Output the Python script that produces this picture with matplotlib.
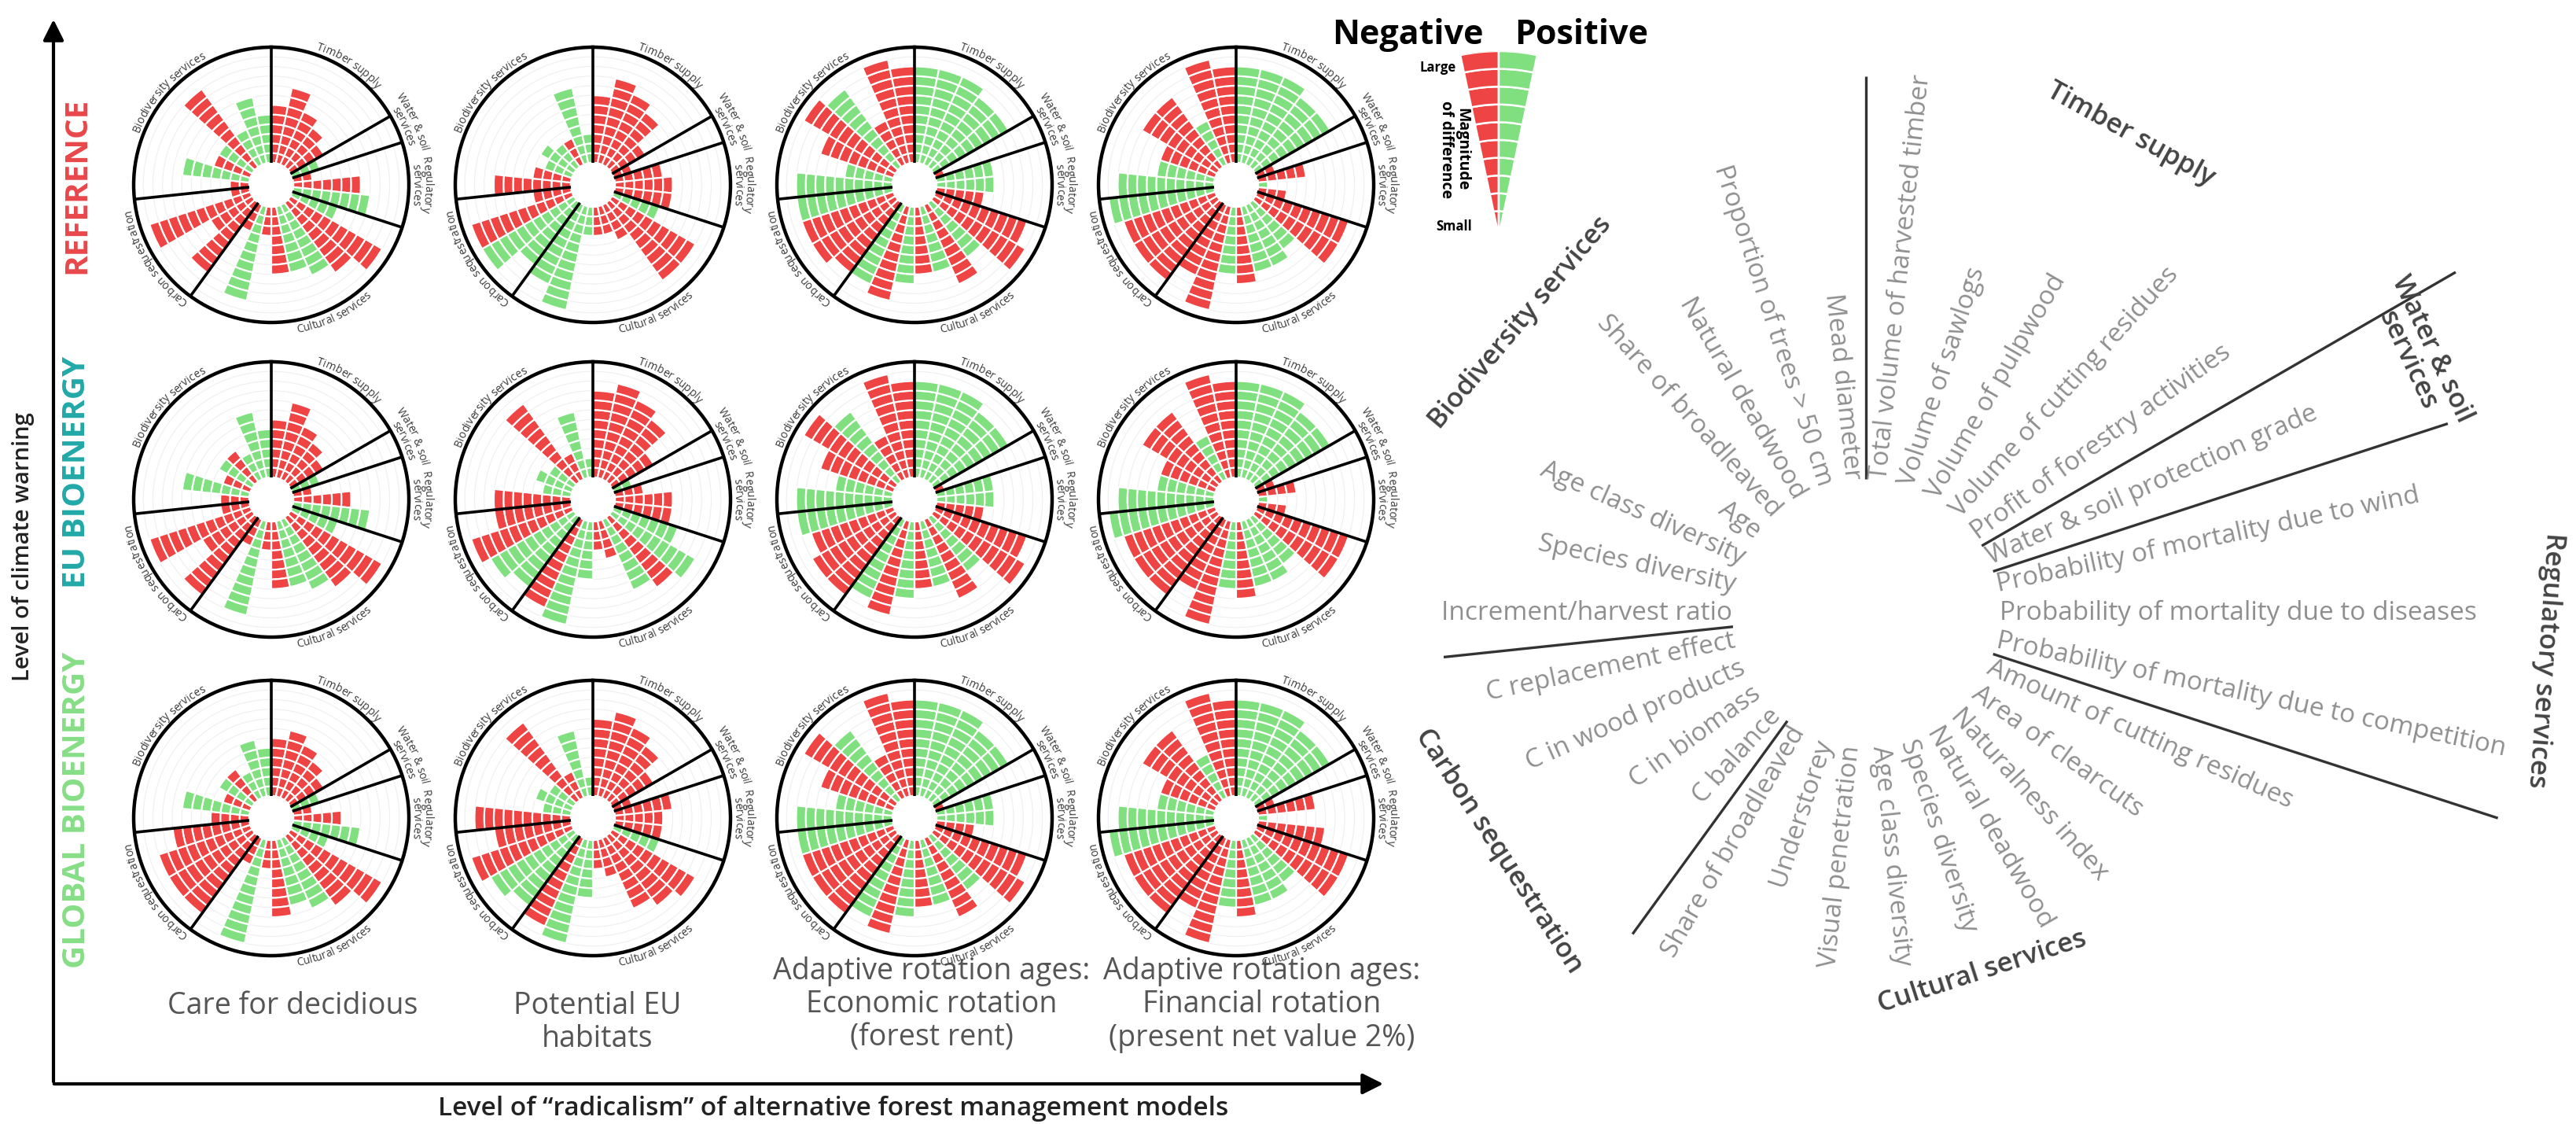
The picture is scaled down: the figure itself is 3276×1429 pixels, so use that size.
import numpy as np
import matplotlib.pyplot as plt
from matplotlib.font_manager import FontProperties
from matplotlib.textpath import TextToPath

W, H, DPI = 3276, 1429, 100
RED, GREEN = '#EE4444', '#80E080'
FONT = 'Open Sans'

# indicator names, clockwise from the top
timber = ['Total volume of harvested timber', 'Volume of sawlogs', 'Volume of pulpwood',
          'Volume of cutting residues', 'Profit of forestry activities']
water = ['Water & soil protection grade']
regulatory = ['Probability of mortality due to wind', 'Probability of mortality due to diseases',
              'Probability of mortality due to competition']
cultural = ['Amount of cutting residues', 'Area of clearcuts', 'Naturalness index', 'Natural deadwood',
            'Species diversity', 'Age class diversity', 'Visual penetration', 'Understorey',
            'Share of broadleaved']
carbon = ['C balance', 'C in biomass', 'C in wood products', 'C replacement effect']
biodiversity = ['Increment/harvest ratio', 'Species diversity', 'Age class diversity', 'Age',
                'Share of broadleaved', 'Natural deadwood', 'Proportion of trees > 50 cm', 'Mead diameter']
indicators = timber + water + regulatory + cultural + carbon + biodiversity

rows = ['REFERENCE', 'EU BIOENERGY', 'GLOBAL BIOENERGY']
row_colors = ['#E9474A', '#22A8A8', '#86DE86']
models = ['Care for decidious', 'Potential EU\nhabitats',
          'Adaptive rotation ages:\nEconomic rotation\n(forest rent)',
          'Adaptive rotation ages:\nFinancial rotation\n(present net value 2%)']

# number of blocks per indicator (+ positive / green, - negative / red), clockwise from the top
ref_care = [-6, -8, -6, -5, -4, 3, -2, -7, 8, 5, -11, -9, 8, 7, -7, -3, 10, -3, -9, -5, -11, -2, -2, 7, -4, 4, -10, 4, 7, 5]
ref_hab = [-7, -9, -8, -7, -4, -2, -5, -6, -6, 5, -10, -10, -4, -3, -3, 3, 11, 9, 8, 11, -11, -4, -8, -4, 3, 4, 3, -3, 8, 3]
ref_econ = [10, 10, 10, 9, 9, -1, 6, 6, -5, -10, -11, 7, -9, 7, -7, 8, -10, 9, -9, -10, -10, 10, 10, 5, -8, -11, 10, -5, -11, -10]
ref_fin = [10, 10, 10, 9, 9, -2, -5, 1, -3, -10, -10, 6, 7, 7, -8, 7, -11, -8, -10, -10, -10, 11, 10, 6, -6, -9, -9, 5, -11, -10]
eu_care = [-6, -8, -6, -5, -4, 3, -2, -6, 8, 5, -11, -9, 8, 7, -7, -3, 10, -3, -10, -6, -11, -3, -3, 7, -3, 4, -4, 3, 7, 5]
eu_hab = [-9, -10, -9, -8, -5, 2, -3, -6, -6, 7, 10, -9, 8, -4, -3, 6, 11, -10, 9, 10, -11, -8, -8, 3, 4, 3, -10, -3, 7, 2]
eu_econ = [10, 10, 10, 9, 9, -1, 6, 6, -5, -10, -11, 7, -9, 7, -7, 8, -10, 9, -10, -10, -9, 10, 10, 6, -8, -11, 9, -5, -11, -10]
eu_fin = [10, 10, 10, 9, 9, -2, -4, 1, -3, -10, -10, 6, 7, 7, -8, 7, -11, -8, -10, -10, -10, 11, 10, 6, -6, -9, -9, 5, -11, -10]
glob_care = [-6, -7, -6, -5, -4, 3, -2, -5, 7, 4, -11, -9, 8, 7, -8, -3, 11, -3, -10, -10, -10, -8, -4, 7, -3, 4, -4, 3, 6, 5]
glob_hab = [-8, -9, -8, -7, -5, -2, -6, -5, -5, 5, -10, -9, -8, -4, -3, 6, 11, -10, 9, 10, -11, -8, -10, 3, 4, 3, -10, -3, 7, 2]
glob_econ = [10, 10, 10, 9, 9, -1, 6, 6, -4, -10, -11, 7, -9, 7, -7, 8, -10, 9, -10, -10, -10, 10, 10, 6, -8, -11, 9, -5, -11, -10]
glob_fin = [10, 10, 10, 9, 9, -2, -6, 1, -7, -10, -10, 6, 7, 7, -8, 7, -11, -8, -10, -10, -10, 11, 10, 6, -6, -9, -9, 5, -11, -10]
grid = [[ref_care, ref_hab, ref_econ, ref_fin],
        [eu_care, eu_hab, eu_econ, eu_fin],
        [glob_care, glob_hab, glob_econ, glob_fin]]

bounds = [0, 60, 72, 108, 216, 264]  # sector borders, degrees clockwise from top
col_x = [345, 754, 1163, 1572]
row_y = [235, 635, 1040]
R_PX = 175
HOLE, R_OUT = 2.3, 14.3

fig = plt.figure(figsize=(W / DPI, H / DPI), dpi=DPI)
base = fig.add_axes([0, 0, 1, 1])
base.set_xlim(0, W)
base.set_ylim(H, 0)
base.axis('off')

t2p = TextToPath()


def adv(s, fp):
    if not s:
        return 0.0
    w = t2p.get_text_width_height_descent(s + 'l', fp, ismath=False)[0]
    w0 = t2p.get_text_width_height_descent('l', fp, ismath=False)[0]
    return (w - w0) * DPI / 72


def px_axes(cx, cy, r, **kw):
    return fig.add_axes([(cx - r) / W, 1 - (cy + r) / H, 2 * r / W, 2 * r / H], **kw)


def arc_text(ax, s, phi_c, r_px, size, flip=False, color='#3a3a3a'):
    fp = FontProperties(family=FONT, size=size)
    a = [adv(s[:k], fp) for k in range(len(s) + 1)]
    total = a[-1]
    for k, ch in enumerate(s):
        if ch == ' ':
            continue
        mid = (a[k] + a[k + 1]) / 2 - total / 2
        d = np.rad2deg(mid / r_px)
        if flip:
            phi = phi_c - d
            rot = 180 - phi
        else:
            phi = phi_c + d
            rot = -phi
        ax.text(np.deg2rad(phi), r_px / R_PX * R_OUT, ch, rotation=rot, rotation_mode='anchor',
                ha='center', va='baseline', fontproperties=fp, color=color, clip_on=False)


def rose(ax, vals):
    ax.set_theta_zero_location('N')
    ax.set_theta_direction(-1)
    for i, v in enumerate(vals):
        n = abs(v)
        if n == 0:
            continue
        ax.bar(np.full(n, np.deg2rad(6 + 12 * i)), np.ones(n), width=np.deg2rad(12),
               bottom=HOLE + np.arange(n), color=GREEN if v > 0 else RED,
               edgecolor='white', linewidth=1.6, zorder=2)
    for b in bounds:
        ax.plot([np.deg2rad(b)] * 2, [HOLE, R_OUT], color='black', lw=2.6, zorder=3,
                solid_capstyle='butt')
    ax.set_ylim(0, R_OUT)
    ax.set_yticks(HOLE + np.arange(1, 12))
    ax.set_xticks([])
    ax.set_yticklabels([])
    ax.grid(True, color='#efefef', lw=0.8)
    ax.set_axisbelow(True)
    ax.spines['polar'].set_linewidth(3.2)
    fs = 10
    arc_text(ax, 'Biodiversity services', 312, 181, fs)
    arc_text(ax, 'Timber supply', 33, 181, fs)
    arc_text(ax, 'Water & soil', 66, 195, fs)
    arc_text(ax, 'services', 66, 181, fs)
    arc_text(ax, 'Regulatory', 90, 195, fs)
    arc_text(ax, 'services', 90, 181, fs)
    arc_text(ax, 'Cultural services', 154, 191, fs, flip=True)
    arc_text(ax, 'Carbon sequestration', 238, 181, fs)


for r in range(3):
    for c in range(4):
        ax = px_axes(col_x[c], row_y[r], R_PX, projection='polar')
        rose(ax, grid[r][c])

# axes arrows
base.annotate('', xy=(68, 22), xytext=(68, 1378),
              arrowprops=dict(arrowstyle='-|>', lw=3, color='black', mutation_scale=40))
base.annotate('', xy=(1762, 1378), xytext=(66, 1378),
              arrowprops=dict(arrowstyle='-|>', lw=3, color='black', mutation_scale=40))
base.text(30, 695, 'Level of climate warning', rotation=90, ha='center', va='center',
          fontsize=21, family=FONT, fontweight='semibold', color='#222222')
base.text(1060, 1410, 'Level of \u201cradicalism\u201d of alternative forest management models',
          ha='center', va='center', fontsize=24, family=FONT, fontweight='semibold', color='#222222')

row_label_y = [236, 600, 1030]
for r in range(3):
    base.text(98, row_label_y[r], rows[r], rotation=90, ha='center', va='center', fontsize=29,
              family=FONT, fontweight='bold', color=row_colors[r])

cap_x = [372, 760, 1185, 1605]
cap_y = [1260, 1260, 1216, 1216]
for c in range(4):
    base.text(cap_x[c], cap_y[c], models[c], ha='center', va='top', fontsize=27, family=FONT,
              color='#555555', linespacing=1.15)

# legend
base.text(1790, 44, 'Negative', ha='center', va='center', fontsize=31, family=FONT,
          fontweight='bold', color='black')
base.text(2011, 44, 'Positive', ha='center', va='center', fontsize=31, family=FONT,
          fontweight='bold', color='black')
lg = px_axes(1906, 300, 235, projection='polar')
lg.set_theta_zero_location('N')
lg.set_theta_direction(-1)
n_leg = 10
for sign, th in [(-1, -6), (1, 6)]:
    lg.bar(np.full(n_leg, np.deg2rad(th)), np.ones(n_leg), width=np.deg2rad(12),
           bottom=0.4 + np.arange(n_leg), color=GREEN if sign > 0 else RED,
           edgecolor='white', linewidth=1.8)
lg.set_ylim(0, n_leg + 0.4)
lg.axis('off')
lg.patch.set_visible(False)
base.text(1852, 86, 'Large', ha='right', va='center', fontsize=12, family=FONT, fontweight='bold')
base.text(1872, 288, 'Small', ha='right', va='center', fontsize=12, family=FONT, fontweight='bold')
base.text(1849, 190, 'Magnitude\nof difference', rotation=-90, ha='center', va='center',
          fontsize=14, family=FONT, fontweight='bold', linespacing=1.0)

# indicator wheel
wh = px_axes(2373, 779, 900, projection='polar')
wh.set_theta_zero_location('N')
wh.set_theta_direction(-1)
wh.set_ylim(0, 900)
wh.axis('off')
wh.patch.set_visible(False)
line_end = [682, 866, 778, 845, 505, 540]
for b, e in zip(bounds, line_end):
    wh.plot([np.deg2rad(b)] * 2, [170, e], color='#333333', lw=2.4, solid_capstyle='butt')
for i, name in enumerate(indicators):
    phi = 6 + 12 * i
    if phi < 180:
        wh.text(np.deg2rad(phi), 170, name, rotation=90 - phi, rotation_mode='anchor', ha='left',
                va='center', fontsize=24, family=FONT, color='#8f8f8f')
    else:
        wh.text(np.deg2rad(phi), 170, name, rotation=270 - phi, rotation_mode='anchor', ha='right',
                va='center', fontsize=24, family=FONT, color='#8f8f8f')

groups = [('Timber supply', 29, 695, False), ('Water & soil\nservices', 65, 777, False),
          ('Regulatory services', 94, 866, False), ('Cultural services', 162, 480, True),
          ('Carbon sequestration', 237, 557, True), ('Biodiversity services', 310, 574, False)]
for name, phi, rr, flip in groups:
    wh.text(np.deg2rad(phi), rr, name, rotation=(180 - phi) if flip else -phi,
            rotation_mode='anchor', ha='center', va='center', fontsize=25, family=FONT,
            fontweight='semibold', color='#444444', linespacing=1.0)

fig.savefig('out.png', dpi=DPI)
